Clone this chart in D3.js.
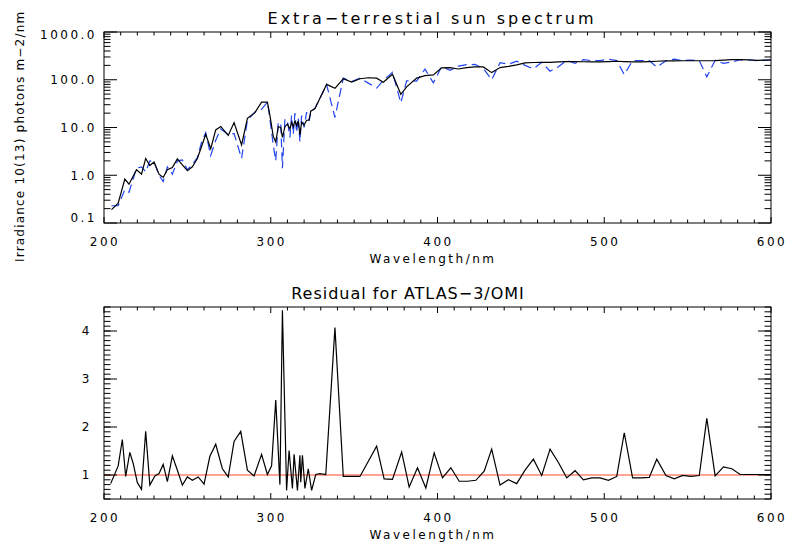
<!DOCTYPE html>
<html>
<head>
<meta charset="utf-8">
<script src="https://cdn.jsdelivr.net/npm/d3@7"></script>
<style>
  body { margin: 0; background: #fff; }
  text { font-family: "DejaVu Sans", sans-serif; font-weight: normal; fill: #000; letter-spacing: 2.5px; }
</style>
</head>
<body>
<div id="chart"></div>
<script>
// spectrum grid (nm), ATLAS-3 (black) and OMI (blue dashed) irradiance
var wlSpec = [204.5,208.5,212.5,215,219.5,222.5,225,227.5,230,233,235.5,238,241,244,247,250,253,256,258.5,261,
  264,267,270,274.5,278,282.5,286,290.5,294.5,298,299.5,301.5,303,304.5,306,307,308.5,310,311.5,312.5,
  313.5,314.5,315.5,316.5,317.5,318.5,320,321.5,323,324,326.5,329.5,333.5,338.5,343.5,348.5,353.5,358.5,363.5,367.5,
  373,378,381.5,387.5,392.5,397.5,402.5,407.5,412.5,417.5,422.5,427.5,432.5,437.5,442.5,447.5,452.5,457.5,462.5,467.5,
  472.5,477.5,482.5,487.5,492.5,497.5,502.5,507.5,512,517,522,527,531.5,537,542,547,552,557,561.5,566.5,
  571.5,576.5,581.5,586.5,591.5,596.5,600];
var atlas = [0.19,0.26,0.83,0.65,1.3,1.05,2.25,1.6,1.9,1.05,0.9,1.3,1.45,2.2,1.65,1.25,1.5,2.25,4.0,7.2,
  3.6,8.9,10.5,6.8,12.7,4.3,15.6,20.5,34,34,18,6.5,5.0,10.4,10,6.2,10.4,11.8,9.3,12.8,
  10.4,13.7,11,13.7,7.0,12.8,11.3,14.2,14.2,22,25,41,80,66,105,89,105,110,108,89,
  130,49.5,71,108,122,126,178,180,168,180,186,186,141,180,190,205,225,230,232,232,
  236,240,240,238,236,236,240,244,240,236,236,240,244,248,248,250,250,250,250,252,
  258,265,265,262,255,258,262];
var omi = [0.23,0.23,0.5,0.44,1.4,1.5,1.18,2.0,1.95,1.0,0.74,1.5,1.05,2.0,2.1,1.3,1.7,2.35,4.9,7.8,
  2.6,5.4,9.3,7.1,7.5,2.25,14.2,21,24,34,15,4.3,2.0,13,12,1.4,15,14,6.2,17.8,
  7.3,20,7.8,16,5.0,17.8,10,21,14,21,25,41,79,16.2,108,92,108,85,67,97,
  143,33,95,94,167,86,189,157,193,207,209,172,100,228,211,244,200,169,232,151,
  187,255,220,264,251,251,270,252,128,251,251,253,183,250,270,252,258,252,115,257,
  220,235,262,259,252,255,259];

// residual grid (nm) and ATLAS-3/OMI ratio
var wlRatio = [204,208.5,211,213,215.5,217.5,220,222.5,225,227.5,230.5,233,235.5,238,241,244,247,250,253,256.5,
  260,263.5,267,271,274.5,278,282,286,290,294.5,298,300.5,303,305.5,307,309.5,311,313,314,316,
  317.5,318,319,320.5,322.5,324.5,327,329.5,333,338.5,343.5,353.5,363.5,368,373,378.5,383,388,393,398,
  403,408,413,418,423,428,432.5,437.5,442.5,447.5,452.5,457.5,462.5,467.5,472.5,477.5,482.5,487.5,492.5,497.5,
  502.5,507.5,512,517,522,527,531.5,537,542,547,552,557,561.5,566.5,571.5,576.5,581.5,586.5,591.5,600];
var ratio = [0.82,1.19,1.74,0.97,1.47,1.24,0.84,0.70,1.91,0.79,0.98,1.03,1.22,0.86,1.40,1.10,0.79,0.96,0.89,0.96,
  0.81,1.39,1.64,1.13,0.96,1.70,1.91,1.10,0.98,1.43,1.01,1.19,2.56,0.80,4.43,0.68,1.51,0.72,1.43,0.68,
  1.41,0.85,1.41,0.72,1.13,0.68,1.01,1.03,1.01,4.07,0.97,0.97,1.60,0.92,0.91,1.48,0.75,1.15,0.73,1.46,
  0.94,1.15,0.87,0.87,0.89,1.08,1.54,0.79,0.90,0.82,1.10,1.33,0.99,1.54,1.26,0.94,1.09,0.90,0.94,0.94,
  0.89,0.97,1.88,0.94,0.94,0.95,1.33,0.99,0.92,0.99,0.97,0.99,2.18,0.98,1.17,1.13,1.01,1.01,1.01,1.01];

var xTicks = [200, 300, 400, 500, 600];
var yTopTicks = [0.1, 1, 10, 100, 1000];
var yTopLabels = ["0.1", "1.0", "10.0", "100.0", "1000.0"];
var yBotTicks = [1, 2, 3, 4];

var W = 789, H = 544;
var left = 104, right = 771;

var svg = d3.select("#chart").append("svg")
  .attr("width", W).attr("height", H);

var x = d3.scaleLinear().domain([200, 600]).range([left, right]);
var yTop = d3.scaleLog().domain([0.1, 1000]).range([223, 32]);
var yBot = d3.scaleLinear().domain([0.5, 4.5]).range([499, 307]);

// minor tick lists
var xMinor = d3.range(200, 601, 10);
var yTopMinor = [];
[0.1, 1, 10, 100].forEach(function (d) {
  for (var k = 2; k <= 9; k++) yTopMinor.push(d * k);
});
var yBotMinor = d3.range(5, 46).map(function (d) { return d / 10; });

function frame(y, yMajor, yMinor, yLabels, labelX) {
  var y0 = y.range()[0], y1 = y.range()[1];
  var g = svg.append("g");
  g.append("rect")
    .attr("x", left).attr("y", y1)
    .attr("width", right - left).attr("height", y0 - y1)
    .attr("fill", "none").attr("stroke", "#000").attr("stroke-width", 1);

  // x ticks, bottom and top, pointing in
  xMinor.forEach(function (v) {
    var len = xTicks.indexOf(v) >= 0 ? 6 : 3.5;
    g.append("line").attr("x1", x(v)).attr("x2", x(v)).attr("y1", y0).attr("y2", y0 - len)
      .attr("stroke", "#000");
    g.append("line").attr("x1", x(v)).attr("x2", x(v)).attr("y1", y1).attr("y2", y1 + len)
      .attr("stroke", "#000");
  });
  // y ticks, left and right
  function yTick(v, len) {
    g.append("line").attr("x1", left).attr("x2", left + len).attr("y1", y(v)).attr("y2", y(v))
      .attr("stroke", "#000");
    g.append("line").attr("x1", right).attr("x2", right - len).attr("y1", y(v)).attr("y2", y(v))
      .attr("stroke", "#000");
  }
  yMinor.forEach(function (v) { yTick(v, 6.5); });
  yMajor.forEach(function (v) { yTick(v, 13); });

  // tick labels
  xTicks.forEach(function (v) {
    g.append("text").attr("x", x(v) + 1).attr("y", y0 + 23)
      .attr("text-anchor", "middle").style("font-size", "12px").text(v);
  });
  yMajor.forEach(function (v, i) {
    var py = Math.max(y1 + 3, Math.min(y0 - 5, y(v)));
    g.append("text").attr("x", labelX).attr("y", py).attr("dy", "0.36em")
      .attr("text-anchor", "end").style("font-size", "12px")
      .text(yLabels ? yLabels[i] : v);
  });
  g.append("text").attr("x", 433).attr("y", y0 + 40)
    .attr("text-anchor", "middle").style("font-size", "12px").text("Wavelength/nm");
  return g;
}

// clip paths
var defs = svg.append("defs");
defs.append("clipPath").attr("id", "clipTop").append("rect")
  .attr("x", left).attr("y", 32).attr("width", right - left).attr("height", 191);
defs.append("clipPath").attr("id", "clipBot").append("rect")
  .attr("x", left).attr("y", 307).attr("width", right - left).attr("height", 192);

// top panel
var specAtlas = wlSpec.map(function (d, i) { return [d, atlas[i]]; });
var specOmi = wlSpec.map(function (d, i) { return [d, omi[i]]; });
var lineTop = d3.line().x(function (d) { return x(d[0]); }).y(function (d) { return yTop(d[1]); });

var gTop = svg.append("g").attr("clip-path", "url(#clipTop)");
gTop.append("path").datum(specOmi)
  .attr("fill", "none").attr("stroke", "#2144ee").attr("stroke-width", 1.2)
  .attr("stroke-dasharray", "9,5").attr("d", lineTop);
gTop.append("path").datum(specAtlas)
  .attr("fill", "none").attr("stroke", "#000").attr("stroke-width", 1.2).attr("d", lineTop);

frame(yTop, yTopTicks, yTopMinor, yTopLabels, 97);

svg.append("text").attr("x", 432).attr("y", 24)
  .attr("text-anchor", "middle").style("font-size", "16px").style("letter-spacing", "3px")
  .text("Extra\u2212terrestial sun spectrum");

// y label starts where the reference's does, a bit tighter so it fits
svg.append("text")
  .attr("transform", "translate(24,262) rotate(-90)")
  .attr("text-anchor", "start").style("font-size", "12px").style("letter-spacing", "1.2px")
  .text("Irradiance 10(13) photons m\u22122/nm");

// bottom panel
var res = wlRatio.map(function (d, i) { return [d, ratio[i]]; });
var lineBot = d3.line().x(function (d) { return x(d[0]); }).y(function (d) { return yBot(d[1]); });

var gBot = svg.append("g").attr("clip-path", "url(#clipBot)");
gBot.append("line")
  .attr("x1", x(200)).attr("x2", x(600)).attr("y1", yBot(1)).attr("y2", yBot(1))
  .attr("stroke", "#ff4a26").attr("stroke-width", 1.2);
gBot.append("path").datum(res)
  .attr("fill", "none").attr("stroke", "#000").attr("stroke-width", 1.2).attr("d", lineBot);

frame(yBot, yBotTicks, yBotMinor, null, 92);

svg.append("text").attr("x", 408).attr("y", 299)
  .attr("text-anchor", "middle").style("font-size", "16px").style("letter-spacing", "1px")
  .text("Residual for ATLAS\u22123/OMI");
</script>
</body>
</html>
